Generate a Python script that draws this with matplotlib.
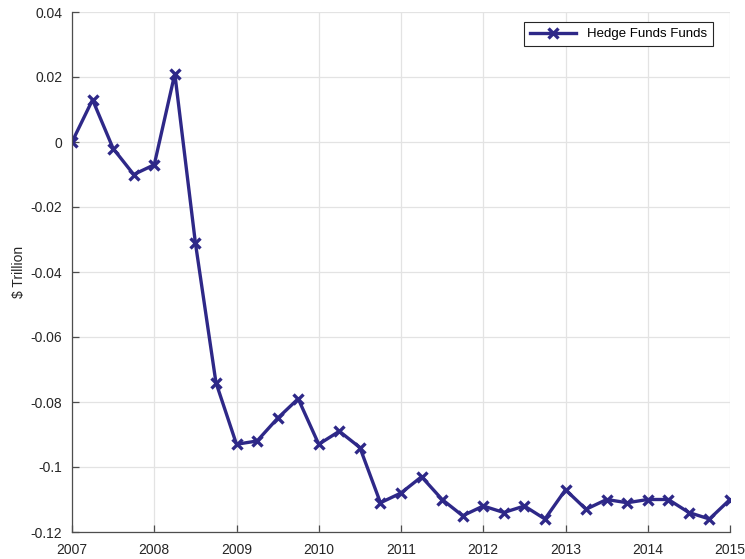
import numpy as np
import matplotlib.pyplot as plt

plt.rcParams['font.family'] = ['Liberation Sans', 'DejaVu Sans']

# quarterly observations, 2007 Q1 .. 2015 Q1
years = np.arange(2007, 2015.01, 0.25)
hedge_funds = [0.000, 0.013, -0.002, -0.010, -0.007, 0.021, -0.031, -0.074,
               -0.093, -0.092, -0.085, -0.079, -0.093, -0.089, -0.094, -0.111,
               -0.108, -0.103, -0.110, -0.115, -0.112, -0.114, -0.112, -0.116,
               -0.107, -0.113, -0.110, -0.111, -0.110, -0.110, -0.114, -0.116,
               -0.110]
xticks = list(range(2007, 2016))
yticks = [-0.12, -0.1, -0.08, -0.06, -0.04, -0.02, 0, 0.02, 0.04]
ytick_labels = ['-0.12', '-0.1', '-0.08', '-0.06', '-0.04', '-0.02', '0', '0.02', '0.04']

fig = plt.figure(figsize=(7.45, 5.59), dpi=100)
ax = fig.add_axes([72 / 745, 27 / 559, 658 / 745, 520 / 559])

ax.plot(years, hedge_funds, color='#2e2888', lw=2.4, marker='x', ms=6.5, mew=2.4,
        label='Hedge Funds Funds')

ax.set_xlim(2007, 2015)
ax.set_ylim(-0.12, 0.04)
ax.set_xticks(xticks)
ax.set_yticks(yticks)
ax.set_yticklabels(ytick_labels)
ax.grid(True, color='#e3e3e3', lw=0.9)
ax.set_axisbelow(True)

for s in ['top', 'right']:
    ax.spines[s].set_visible(False)
for s in ['left', 'bottom']:
    ax.spines[s].set_color('#4d4d4d')
    ax.spines[s].set_linewidth(0.9)
ax.tick_params(direction='in', length=5, width=0.9, color='#4d4d4d',
               labelsize=10, labelcolor='#262626')
ax.tick_params(axis='x', pad=8)
ax.tick_params(axis='y', pad=7)

ax.set_ylabel('$ Trillion', fontsize=10, color='#262626', labelpad=3)

leg = ax.legend(loc='upper right', bbox_to_anchor=(641 / 658, 510 / 520),
                fontsize=9.5, frameon=True, fancybox=False,
                edgecolor='#262626', framealpha=1, handlelength=3.5,
                borderaxespad=0, borderpad=0.45)
leg.get_frame().set_linewidth(0.8)

fig.savefig('out.png', dpi=100)
